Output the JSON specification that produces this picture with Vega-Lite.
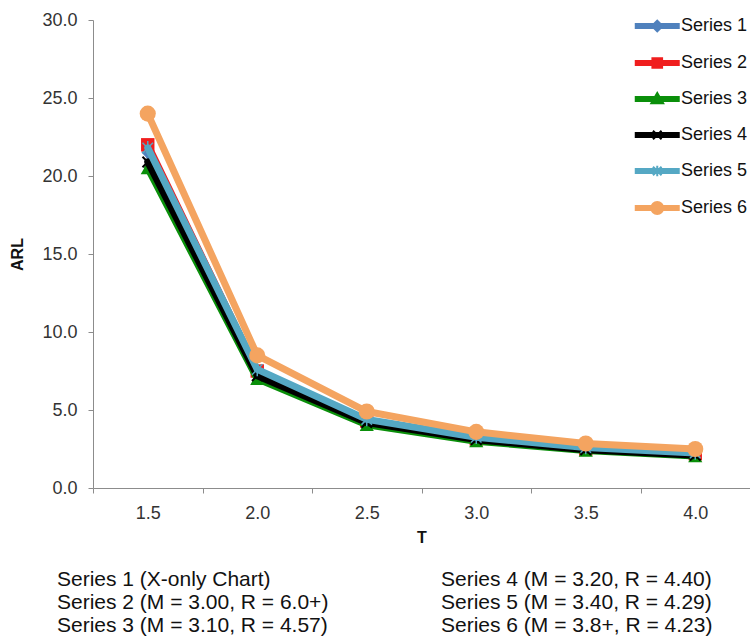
{
  "$schema": "https://vega.github.io/schema/vega-lite/v6.json",
  "padding": {"left": 9, "top": 11, "right": 0, "bottom": 0},
  "spacing": 23,
  "config": {
    "view": {"stroke": null},
    "font": "Liberation Sans",
    "range": {"category": ["#4f81bd", "#f01e1e", "#0a8f0a", "#000000", "#55a8c4", "#f4a460"]},
    "axis": {
      "domainColor": "#8c8c8c",
      "tickColor": "#8c8c8c",
      "labelColor": "#333333",
      "titleColor": "#111111",
      "labelFont": "Liberation Sans",
      "titleFont": "Liberation Sans"
    }
  },
  "datasets": {
    "arl": [
      {"Series": "Series 1", "T": "1.5", "ARL": 21.5},
      {"Series": "Series 1", "T": "2.0", "ARL": 7.5},
      {"Series": "Series 1", "T": "2.5", "ARL": 4.35},
      {"Series": "Series 1", "T": "3.0", "ARL": 3.2},
      {"Series": "Series 1", "T": "3.5", "ARL": 2.55},
      {"Series": "Series 1", "T": "4.0", "ARL": 2.2},
      {"Series": "Series 2", "T": "1.5", "ARL": 22.0},
      {"Series": "Series 2", "T": "2.0", "ARL": 7.5},
      {"Series": "Series 2", "T": "2.5", "ARL": 4.3},
      {"Series": "Series 2", "T": "3.0", "ARL": 3.15},
      {"Series": "Series 2", "T": "3.5", "ARL": 2.5},
      {"Series": "Series 2", "T": "4.0", "ARL": 2.2},
      {"Series": "Series 3", "T": "1.5", "ARL": 20.5},
      {"Series": "Series 3", "T": "2.0", "ARL": 7.0},
      {"Series": "Series 3", "T": "2.5", "ARL": 4.05},
      {"Series": "Series 3", "T": "3.0", "ARL": 3.0},
      {"Series": "Series 3", "T": "3.5", "ARL": 2.4},
      {"Series": "Series 3", "T": "4.0", "ARL": 2.05},
      {"Series": "Series 4", "T": "1.5", "ARL": 20.9},
      {"Series": "Series 4", "T": "2.0", "ARL": 7.2},
      {"Series": "Series 4", "T": "2.5", "ARL": 4.2},
      {"Series": "Series 4", "T": "3.0", "ARL": 3.1},
      {"Series": "Series 4", "T": "3.5", "ARL": 2.45},
      {"Series": "Series 4", "T": "4.0", "ARL": 2.1},
      {"Series": "Series 5", "T": "1.5", "ARL": 21.8},
      {"Series": "Series 5", "T": "2.0", "ARL": 7.6},
      {"Series": "Series 5", "T": "2.5", "ARL": 4.4},
      {"Series": "Series 5", "T": "3.0", "ARL": 3.25},
      {"Series": "Series 5", "T": "3.5", "ARL": 2.6},
      {"Series": "Series 5", "T": "4.0", "ARL": 2.25},
      {"Series": "Series 6", "T": "1.5", "ARL": 24.0},
      {"Series": "Series 6", "T": "2.0", "ARL": 8.5},
      {"Series": "Series 6", "T": "2.5", "ARL": 4.9},
      {"Series": "Series 6", "T": "3.0", "ARL": 3.6},
      {"Series": "Series 6", "T": "3.5", "ARL": 2.85},
      {"Series": "Series 6", "T": "4.0", "ARL": 2.5}
    ],
    "notes": [
      {"col": 0, "row": 0, "label": "Series 1 (X-only Chart)"},
      {"col": 0, "row": 1, "label": "Series 2 (M = 3.00, R = 6.0+)"},
      {"col": 0, "row": 2, "label": "Series 3 (M = 3.10, R = 4.57)"},
      {"col": 1, "row": 0, "label": "Series 4 (M = 3.20, R = 4.40)"},
      {"col": 1, "row": 1, "label": "Series 5 (M = 3.40, R = 4.29)"},
      {"col": 1, "row": 2, "label": "Series 6 (M = 3.8+, R = 4.23)"}
    ]
  },
  "vconcat": [
    {
      "width": 657,
      "height": 468,
      "data": {"name": "arl"},
      "encoding": {
        "x": {
          "field": "T",
          "type": "ordinal",
          "scale": {"type": "band", "paddingInner": 0, "paddingOuter": 0},
          "axis": {
            "title": "T",
            "labelAngle": 0,
            "tickBand": "extent",
            "labelFontSize": 18,
            "labelPadding": 11,
            "tickSize": 5,
            "titleFontSize": 16,
            "titleFontWeight": "bold",
            "titlePadding": 7
          }
        },
        "y": {
          "field": "ARL",
          "type": "quantitative",
          "scale": {"domain": [0, 30], "nice": false, "zero": true},
          "axis": {
            "title": "ARL",
            "values": [0, 5, 10, 15, 20, 25, 30],
            "format": ".1f",
            "grid": false,
            "labelFontSize": 18,
            "labelPadding": 11,
            "tickSize": 5,
            "titleFontSize": 16,
            "titleFontWeight": "bold",
            "titlePadding": 16
          }
        }
      },
      "layer": [
        {"transform": [{"filter": "datum.Series == 'Series 1'"}], "mark": {"type": "line", "strokeWidth": 7, "strokeJoin": "round", "strokeCap": "round"}, "encoding": {"color": {"field": "Series", "type": "nominal", "legend": null}}},
        {"transform": [{"filter": "datum.Series == 'Series 1'"}], "mark": {"type": "point", "shape": "diamond", "filled": true, "size": 160, "opacity": 1}, "encoding": {"color": {"field": "Series", "type": "nominal", "legend": null}}},
        {"transform": [{"filter": "datum.Series == 'Series 2'"}], "mark": {"type": "line", "strokeWidth": 7, "strokeJoin": "round", "strokeCap": "round"}, "encoding": {"color": {"field": "Series", "type": "nominal", "legend": null}}},
        {"transform": [{"filter": "datum.Series == 'Series 2'"}], "mark": {"type": "point", "shape": "square", "filled": true, "size": 180, "opacity": 1}, "encoding": {"color": {"field": "Series", "type": "nominal", "legend": null}}},
        {"transform": [{"filter": "datum.Series == 'Series 3'"}], "mark": {"type": "line", "strokeWidth": 7, "strokeJoin": "round", "strokeCap": "round"}, "encoding": {"color": {"field": "Series", "type": "nominal", "legend": null}}},
        {"transform": [{"filter": "datum.Series == 'Series 3'"}], "mark": {"type": "point", "shape": "triangle-up", "filled": true, "size": 200, "opacity": 1}, "encoding": {"color": {"field": "Series", "type": "nominal", "legend": null}}},
        {"transform": [{"filter": "datum.Series == 'Series 4'"}], "mark": {"type": "line", "strokeWidth": 7, "strokeJoin": "round", "strokeCap": "round"}, "encoding": {"color": {"field": "Series", "type": "nominal", "legend": null}}},
        {"transform": [{"filter": "datum.Series == 'Series 4'"}], "mark": {"type": "point", "shape": "M-1,-1L1,1M-1,1L1,-1", "filled": false, "size": 110, "strokeWidth": 2, "opacity": 1}, "encoding": {"color": {"field": "Series", "type": "nominal", "legend": null}}},
        {"transform": [{"filter": "datum.Series == 'Series 5'"}], "mark": {"type": "line", "strokeWidth": 7, "strokeJoin": "round", "strokeCap": "round"}, "encoding": {"color": {"field": "Series", "type": "nominal", "legend": null}}},
        {"transform": [{"filter": "datum.Series == 'Series 5'"}], "mark": {"type": "point", "shape": "M-1,-1L1,1M-1,1L1,-1M0,-1.3V1.3", "filled": false, "size": 110, "strokeWidth": 1.5, "opacity": 1}, "encoding": {"color": {"field": "Series", "type": "nominal", "legend": null}}},
        {"transform": [{"filter": "datum.Series == 'Series 6'"}], "mark": {"type": "line", "strokeWidth": 7, "strokeJoin": "round", "strokeCap": "round"}, "encoding": {"color": {"field": "Series", "type": "nominal", "legend": null}}},
        {"transform": [{"filter": "datum.Series == 'Series 6'"}], "mark": {"type": "point", "shape": "circle", "filled": true, "size": 260, "opacity": 1}, "encoding": {"color": {"field": "Series", "type": "nominal", "legend": null}}},
        {
          "mark": {"type": "point", "filled": true, "opacity": 0},
          "encoding": {
            "shape": {
              "field": "Series",
              "type": "nominal",
              "scale": {
                "range": [
                  "M-3,-0.19H1V0.19H-3Z M-1,-0.5L-0.5,0L-1,0.5L-1.5,0Z",
                  "M-3,-0.19H1V0.19H-3Z M-1.45,-0.45H-0.55V0.45H-1.45Z",
                  "M-3,-0.19H1V0.19H-3Z M-1,-0.55L-0.45,0.4H-1.55Z",
                  "M-3,-0.19H1V0.19H-3Z M-1.4,-0.4L-0.6,0.4M-1.4,0.4L-0.6,-0.4",
                  "M-3,-0.19H1V0.19H-3Z M-1.4,-0.4L-0.6,0.4M-1.4,0.4L-0.6,-0.4M-1,-0.5V0.5",
                  "M-3,-0.19H1V0.19H-3Z M-1.55,0A0.55,0.55 0 1,1 -0.45,0A0.55,0.55 0 1,1 -1.55,0Z"
                ]
              },
              "legend": {"title": null, "orient": "none", "legendX": 563, "legendY": -6, "symbolSize": 462, "symbolStrokeWidth": 2, "symbolOpacity": 1, "labelFontSize": 18, "labelColor": "#111111", "labelOffset": 1, "rowPadding": 15, "padding": 0}
            },
            "fill": {"field": "Series", "type": "nominal"},
            "stroke": {"field": "Series", "type": "nominal"}
          }
        }
      ]
    },
    {
      "width": 657,
      "height": 69,
      "data": {"name": "notes"},
      "mark": {"type": "text", "align": "left", "baseline": "middle", "fontSize": 21, "color": "#111111", "font": "Liberation Sans"},
      "encoding": {
        "x": {"field": "col", "type": "ordinal", "scale": {"type": "point", "range": [-36, 348], "padding": 0}, "axis": null},
        "y": {"field": "row", "type": "ordinal", "scale": {"type": "point", "padding": 0.5}, "axis": null},
        "text": {"field": "label"}
      }
    }
  ]
}
